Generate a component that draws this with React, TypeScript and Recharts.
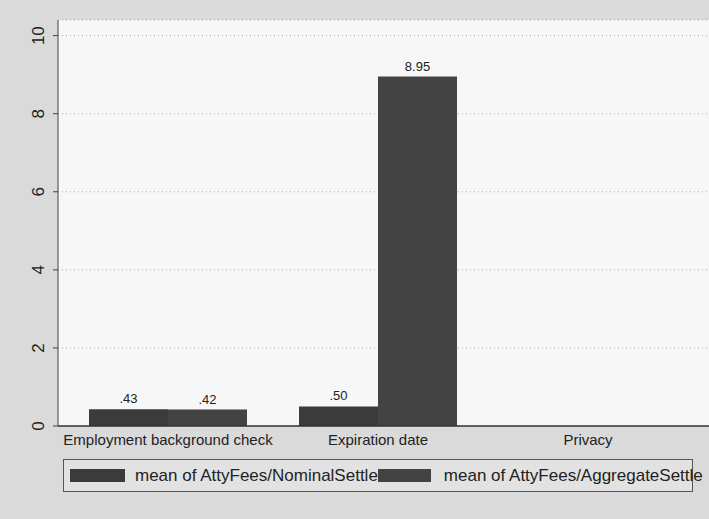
import { Bar, BarChart, CartesianGrid, LabelList, Legend, XAxis, YAxis } from "recharts";

document.body.style.margin = "0";

const categories = ["Employment background check", "Expiration date", "Privacy"];
const nominalSettle: (number | null)[] = [0.43, 0.5, null];
const aggregateSettle: (number | null)[] = [0.42, 8.95, null];
const yTicks = [0, 2, 4, 6, 8, 10];
const seriesNames = ["mean of AttyFees/NominalSettle", "mean of AttyFees/AggregateSettle"];

const data = categories.map((name, i) => ({
  name,
  nominal: nominalSettle[i],
  aggregate: aggregateSettle[i],
}));

const FONT = "'Liberation Sans', Arial, Helvetica, sans-serif";
const BAR_COLORS = ["#3b3b3b", "#434343"];

// stata style: .43 rather than 0.43
function fmt(value: unknown) {
  if (value == null) return "";
  const s = Number(value).toFixed(2);
  return s.startsWith("0.") ? s.slice(1) : s;
}

function YTick(props: any) {
  const { x, y, payload } = props;
  const tx = x - 7;
  return (
    <text x={tx} y={y} transform={`rotate(-90, ${tx}, ${y})`} textAnchor="middle" fontSize={17} fill="#222" fontFamily={FONT}>
      {payload.value}
    </text>
  );
}

function LegendBox() {
  return (
    <div
      style={{
        boxSizing: "border-box",
        height: 33,
        border: "1px solid #555",
        background: "#e2e2e2",
        display: "flex",
        alignItems: "center",
        fontFamily: FONT,
        fontSize: 17,
        color: "#222",
        whiteSpace: "nowrap",
      }}
    >
      <div style={{ width: 318, display: "flex", alignItems: "center", paddingLeft: 6, boxSizing: "border-box" }}>
        <span style={{ display: "inline-block", width: 55, height: 13, background: BAR_COLORS[0], marginRight: 10 }} />
        {seriesNames[0]}
      </div>
      <div style={{ display: "flex", alignItems: "center" }}>
        <span style={{ display: "inline-block", width: 53, height: 13, background: BAR_COLORS[1], marginRight: 13 }} />
        {seriesNames[1]}
      </div>
    </div>
  );
}

export default function App() {
  return (
    <div style={{ width: 709, height: 519, background: "#dadada", overflow: "hidden" }}>
      <BarChart
        width={709}
        height={519}
        data={data}
        margin={{ top: 20, right: 0, left: 0, bottom: 35 }}
        barCategoryGap={26}
        barGap={0}
      >
        <CartesianGrid vertical={false} fill="#f7f7f7" stroke="#aaa" strokeDasharray="1 3" />
        <XAxis
          dataKey="name"
          height={25}
          padding={{ left: 5, right: 16 }}
          tickLine={false}
          axisLine={{ stroke: "#333", strokeWidth: 1.5 }}
          tick={{ fill: "#222", fontSize: 15, fontFamily: FONT }}
          tickMargin={2}
          interval={0}
        />
        <YAxis
          width={58}
          domain={[0, 10.4]}
          ticks={yTicks}
          tickSize={5}
          tickMargin={2}
          axisLine={{ stroke: "#444" }}
          tickLine={{ stroke: "#444" }}
          tick={<YTick />}
        />
        <Legend
          verticalAlign="bottom"
          content={<LegendBox />}
          wrapperStyle={{ left: 63, top: 459, bottom: "auto", width: 630, height: 33 }}
        />
        <Bar dataKey="nominal" name={seriesNames[0]} fill={BAR_COLORS[0]} isAnimationActive={false}>
          <LabelList dataKey="nominal" position="top" offset={6} formatter={fmt} style={{ fontSize: 13, fill: "#222", fontFamily: FONT }} />
        </Bar>
        <Bar dataKey="aggregate" name={seriesNames[1]} fill={BAR_COLORS[1]} isAnimationActive={false}>
          <LabelList dataKey="aggregate" position="top" offset={6} formatter={fmt} style={{ fontSize: 13, fill: "#222", fontFamily: FONT }} />
        </Bar>
      </BarChart>
    </div>
  );
}
